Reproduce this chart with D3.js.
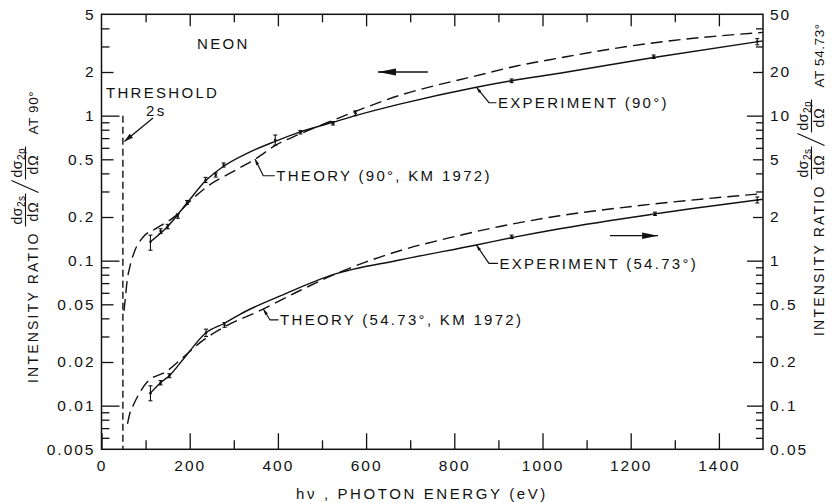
<!DOCTYPE html>
<html>
<head>
<meta charset="utf-8">
<script src="https://cdn.jsdelivr.net/npm/d3@7"></script>
<style>
  html, body { margin: 0; padding: 0; background: #fff; }
  svg { display: block; }
  text { font-family: "Liberation Sans", Arial, sans-serif; fill: #111; }
  .tick text { font-size: 15.5px; letter-spacing: 2px; }
  .note { font-size: 15px; letter-spacing: 2.3px; }
  .ttl { font-size: 14px; letter-spacing: 2.2px; }
</style>
</head>
<body>
<svg id="chart" width="836" height="503"></svg>
<script>
// ---- Neon 2s/2p photoelectron intensity ratio vs photon energy ----

// Measured ratio at 90 deg (left axis): energy, value, error-bar limits
const expEnergy90 = [111, 134, 150, 173, 194, 236, 259, 277, 394, 451, 525, 576, 930, 1252, 1487];
const expRatio90  = [0.135, 0.160, 0.172, 0.203, 0.252, 0.360, 0.390, 0.457, 0.679, 0.768, 0.886, 1.04, 1.74, 2.55, 3.24];
const expLo90     = [0.118, 0.154, 0.166, 0.196, 0.244, 0.346, 0.377, 0.442, 0.625, 0.748, 0.862, 1.00, 1.69, 2.48, 3.08];
const expHi90     = [0.150, 0.166, 0.178, 0.210, 0.260, 0.375, 0.403, 0.472, 0.735, 0.790, 0.910, 1.08, 1.79, 2.62, 3.40];

// Smooth curve drawn through the 90 deg measurements
const fitEnergy90 = [111, 150, 194, 236, 277, 330, 394, 449, 525, 576, 676, 850, 930, 1039, 1252, 1500];
const fitRatio90  = [0.135, 0.172, 0.250, 0.355, 0.448, 0.55, 0.665, 0.770, 0.900, 1.00, 1.20, 1.57, 1.74, 1.96, 2.52, 3.28];

// Theory, 90 deg (KM 1972)
const thEnergy90 = [51, 54, 58, 64, 75, 94, 124, 170, 196, 245, 298, 351, 396, 449, 517, 576, 676, 752, 830, 941, 1039, 1145, 1296, 1500];
const thRatio90  = [0.045, 0.055, 0.072, 0.090, 0.116, 0.145, 0.167, 0.206, 0.249, 0.333, 0.411, 0.508, 0.628, 0.745, 0.908, 1.07, 1.38, 1.60, 1.82, 2.20, 2.50, 2.85, 3.30, 3.75];

// Measured ratio at 54.73 deg (right axis)
const expEnergy54 = [111, 134, 154, 237, 279, 930, 1255, 1487];
const expRatio54  = [0.122, 0.144, 0.161, 0.318, 0.360, 1.46, 2.10, 2.62];
const expLo54     = [0.108, 0.139, 0.156, 0.300, 0.347, 1.42, 2.05, 2.50];
const expHi54     = [0.137, 0.149, 0.166, 0.337, 0.374, 1.50, 2.16, 2.75];

// Smooth curve drawn through the 54.73 deg measurements
const fitEnergy54 = [111, 134, 154, 192, 237, 279, 313, 419, 525, 676, 850, 930, 1039, 1255, 1500];
const fitRatio54  = [0.122, 0.144, 0.161, 0.222, 0.318, 0.37, 0.425, 0.595, 0.80, 1.01, 1.283, 1.44, 1.66, 2.10, 2.65];

// Theory, 54.73 deg (KM 1972)
const thEnergy54 = [59, 64, 71, 86, 103, 147, 190, 222, 283, 358, 449, 510, 600, 676, 790, 903, 1039, 1221, 1500];
const thRatio54  = [0.075, 0.088, 0.099, 0.122, 0.145, 0.172, 0.222, 0.270, 0.355, 0.45, 0.62, 0.76, 0.98, 1.17, 1.44, 1.72, 2.04, 2.40, 2.90];

// 2s ionisation threshold (eV)
const thresholdEnergy = 48.5;

// Tick labels
const xTickLabels = ["0", "200", "400", "600", "800", "1000", "1200", "1400"];
const leftTickLabels = ["0.005", "0.01", "0.02", "0.05", "0.1", "0.2", "0.5", "1", "2", "5"];
const rightTickLabels = ["0.05", "0.1", "0.2", "0.5", "1", "2", "5", "10", "20", "50"];

// ---------------------------------------------------------------
const svg = d3.select("#chart");
const X0 = 101.5, X1 = 763, Y0 = 14.3, Y1 = 449.3;
const INK = "#111";

const x  = d3.scaleLinear().domain([0, 1500]).range([X0, X1]);
const yL = d3.scaleLog().domain([0.005, 5]).range([Y1, Y0]);
const yR = d3.scaleLog().domain([0.05, 50]).range([Y1, Y0]);

function styleAxis(g) {
  g.attr("font-family", null).attr("font-size", null);
  g.select(".domain").remove();
  g.selectAll(".tick line").attr("stroke", INK).attr("stroke-width", 1.3);
}

// minor log ticks (3,4,6,7,8,9 of each decade) inside a domain
function minorLog(lo, hi) {
  const out = [];
  for (let p = -4; p <= 3; p++) {
    for (const m of [3, 4, 6, 7, 8, 9]) {
      const v = m * Math.pow(10, p);
      if (v > lo * 1.0001 && v < hi * 0.9999) out.push(v);
    }
  }
  return out;
}

// ---- bottom axis ----
const xMajor = xTickLabels.map(Number);
const xMinor = [100, 300, 500, 700, 900, 1100, 1300];
svg.append("g").attr("transform", `translate(0,${Y1})`)
  .call(d3.axisBottom(x).tickValues(xMajor).tickSize(-16).tickPadding(11)
    .tickFormat((d, i) => xTickLabels[i]))
  .call(styleAxis);
svg.append("g").attr("transform", `translate(0,${Y1})`)
  .call(d3.axisBottom(x).tickValues(xMinor).tickSize(-9).tickFormat(""))
  .call(styleAxis);
// ---- top axis ----
svg.append("g").attr("transform", `translate(0,${Y0})`)
  .call(d3.axisTop(x).tickValues(xMajor.slice(1)).tickSize(-12).tickFormat(""))
  .call(styleAxis);
svg.append("g").attr("transform", `translate(0,${Y0})`)
  .call(d3.axisTop(x).tickValues(xMinor).tickSize(-8).tickFormat(""))
  .call(styleAxis);

// ---- left axis ----
const leftVals = leftTickLabels.map(Number);
svg.append("g").attr("transform", `translate(${X0},0)`)
  .call(d3.axisLeft(yL).tickValues(leftVals).tickSize(0).tickPadding(6)
    .tickFormat((d, i) => leftTickLabels[i]))
  .call(styleAxis);
svg.append("g").attr("transform", `translate(${X0},0)`)
  .call(d3.axisLeft(yL).tickValues([0.01, 0.1, 1]).tickSize(-18).tickFormat(""))
  .call(styleAxis);
svg.append("g").attr("transform", `translate(${X0},0)`)
  .call(d3.axisLeft(yL).tickValues([0.02, 0.05, 0.2, 0.5, 2]).tickSize(-12).tickFormat(""))
  .call(styleAxis);
svg.append("g").attr("transform", `translate(${X0},0)`)
  .call(d3.axisLeft(yL).tickValues(minorLog(0.005, 5)).tickSize(-8).tickFormat(""))
  .call(styleAxis);

// ---- right axis ----
const rightVals = rightTickLabels.map(Number);
svg.append("g").attr("transform", `translate(${X1},0)`)
  .call(d3.axisRight(yR).tickValues(rightVals).tickSize(0).tickPadding(7)
    .tickFormat((d, i) => rightTickLabels[i]))
  .call(styleAxis);
svg.append("g").attr("transform", `translate(${X1},0)`)
  .call(d3.axisRight(yR).tickValues([0.1, 1, 10]).tickSize(-16).tickFormat(""))
  .call(styleAxis);
svg.append("g").attr("transform", `translate(${X1},0)`)
  .call(d3.axisRight(yR).tickValues([0.2, 0.5, 2, 5, 20]).tickSize(-10).tickFormat(""))
  .call(styleAxis);
svg.append("g").attr("transform", `translate(${X1},0)`)
  .call(d3.axisRight(yR).tickValues(minorLog(0.05, 50)).tickSize(-7).tickFormat(""))
  .call(styleAxis);

// ---- plot frame ----
svg.append("rect").attr("x", X0).attr("y", Y0).attr("width", X1 - X0).attr("height", Y1 - Y0)
  .attr("fill", "none").attr("stroke", INK).attr("stroke-width", 1.5);

// ---- curves ----
const zip = (a, b) => a.map((v, i) => [v, b[i]]);
function curve(es, vs, ys, dash) {
  const line = d3.line().x(d => x(d[0])).y(d => ys(d[1])).curve(d3.curveMonotoneX);
  svg.append("path").datum(zip(es, vs)).attr("d", line)
    .attr("fill", "none").attr("stroke", INK).attr("stroke-width", 1.4)
    .attr("stroke-dasharray", dash || null);
}
curve(fitEnergy90, fitRatio90, yL);
curve(thEnergy90, thRatio90, yL, "12,6");
curve(fitEnergy54, fitRatio54, yR);
curve(thEnergy54, thRatio54, yR, "12,6");

// ---- error bars ----
function errorBars(es, vs, lo, hi, ys) {
  const g = svg.append("g").attr("stroke", INK).attr("stroke-width", 1.1);
  es.forEach((e, i) => {
    const cx = x(e), a = ys(lo[i]), b = ys(hi[i]);
    g.append("line").attr("x1", cx).attr("x2", cx).attr("y1", a).attr("y2", b);
    g.append("line").attr("x1", cx - 2).attr("x2", cx + 2).attr("y1", a).attr("y2", a);
    g.append("line").attr("x1", cx - 2).attr("x2", cx + 2).attr("y1", b).attr("y2", b);
    svg.append("circle").attr("cx", cx).attr("cy", ys(vs[i])).attr("r", 1.3).attr("fill", INK);
  });
}
errorBars(expEnergy90, expRatio90, expLo90, expHi90, yL);
errorBars(expEnergy54, expRatio54, expLo54, expHi54, yR);

// ---- threshold marker ----
svg.append("line")
  .attr("x1", x(thresholdEnergy)).attr("x2", x(thresholdEnergy))
  .attr("y1", yL(1)).attr("y2", Y1)
  .attr("stroke", INK).attr("stroke-width", 1.4).attr("stroke-dasharray", "7,4");

// ---- arrows ----
function arrow(x1, y1, x2, y2, len, hw) {
  svg.append("line").attr("x1", x1).attr("y1", y1).attr("x2", x2).attr("y2", y2)
    .attr("stroke", INK).attr("stroke-width", 1.3);
  const ang = Math.atan2(y2 - y1, x2 - x1);
  const bx = x2 - len * Math.cos(ang), by = y2 - len * Math.sin(ang);
  const px = -Math.sin(ang) * hw, py = Math.cos(ang) * hw;
  svg.append("path")
    .attr("d", `M${x2},${y2}L${bx + px},${by + py}L${bx - px},${by - py}Z`)
    .attr("fill", INK);
}
// which axis each pair of curves uses
arrow(x(740), yL(2.0), x(627), yL(2.0), 18, 3.4);
arrow(x(1153), yR(1.486), x(1262), yR(1.486), 16, 3.2);
// threshold pointer
arrow(153, 118, x(thresholdEnergy) + 1.5, 141.5, 9, 2.6);

// ---- text notes ----
function note(tx, ty, str) {
  svg.append("text").attr("class", "note").attr("x", tx).attr("y", ty).text(str);
}
note(197, 48.5, "NEON");
note(106, 97.5, "THRESHOLD");
note(146, 115.5, "2s");

// value of a curve at energy e (log interpolation)
function valueAt(es, vs, e) {
  const i = Math.max(1, d3.bisectLeft(es, e));
  const t = (e - es[i - 1]) / (es[i] - es[i - 1]);
  return Math.exp(Math.log(vs[i - 1]) + t * (Math.log(vs[i]) - Math.log(vs[i - 1])));
}
function leader(es, vs, ys, e, dx, dy, hlen, label) {
  const ax = x(e), ay = ys(valueAt(es, vs, e));
  const cx = ax + dx, cy = ay + dy;
  svg.append("path").attr("d", `M${ax},${ay}L${cx},${cy}L${cx + hlen},${cy}`)
    .attr("fill", "none").attr("stroke", INK).attr("stroke-width", 1.2);
  // small barb at the curve end
  const ang = Math.atan2(-dy, -dx);
  const bx = ax - 6 * Math.cos(ang), by = ay - 6 * Math.sin(ang);
  const px = -Math.sin(ang) * 1.6, py = Math.cos(ang) * 1.6;
  svg.append("path").attr("d", `M${ax},${ay}L${bx + px},${by + py}L${bx - px},${by - py}Z`).attr("fill", INK);
  svg.append("text").attr("class", "note").attr("x", cx + hlen + 1.5).attr("y", cy).attr("dy", "0.36em").text(label);
}
leader(fitEnergy90, fitRatio90, yL, 850, 12.6, 15.5, 7.5, "EXPERIMENT (90°)");
leader(thEnergy90, thRatio90, yL, 348, 8.3, 16.7, 11.5, "THEORY (90°, KM 1972)");
leader(fitEnergy54, fitRatio54, yR, 850, 12.6, 18.5, 9, "EXPERIMENT (54.73°)");
leader(thEnergy54, thRatio54, yR, 367, 6.7, 11, 8.5, "THEORY (54.73°, KM 1972)");

// ---- x-axis title ----
svg.append("text").attr("class", "ttl").attr("x", 422).attr("y", 498.5)
  .attr("text-anchor", "middle").style("font-size", "15px").style("letter-spacing", "2.6px")
  .text("hν , PHOTON ENERGY (eV)");

// ---- y-axis titles (rotated, reading upward), laid out piece by piece ----
function yTitle(xBase, yStart, angleLabel) {
  const g = svg.append("g").attr("transform", `translate(${xBase},${yStart}) rotate(-90)`);
  let pos = 0;
  const main = g.append("text").attr("class", "ttl").attr("x", 0).attr("y", 0).text("INTENSITY RATIO");
  pos += main.node().getComputedTextLength() + 6;

  function frac(x0, sub) {
    const n = g.append("text").attr("class", "ttl").attr("x", x0 + 1).attr("y", -15.5)
      .style("letter-spacing", "0.5px");
    n.append("tspan").text("dσ");
    n.append("tspan").attr("dy", 3).style("font-size", "10px").text(sub);
    g.append("line").attr("x1", x0 - 1).attr("x2", x0 + 32).attr("y1", -12).attr("y2", -12)
      .attr("stroke", INK).attr("stroke-width", 1.1);
    g.append("text").attr("class", "ttl").attr("x", x0 + 4).attr("y", 0)
      .style("letter-spacing", "1px").text("dΩ");
    return 33;
  }
  pos += frac(pos, "2s");
  g.append("line").attr("x1", pos).attr("y1", 1).attr("x2", pos + 12).attr("y2", -26)
    .attr("stroke", INK).attr("stroke-width", 1.1);
  pos += 14;
  pos += frac(pos, "2p") + 11;
  g.append("text").attr("class", "ttl").attr("x", pos).attr("y", 0)
    .style("font-size", "13.5px").style("letter-spacing", "0.6px").text(angleLabel);
}
yTitle(37.5, 383, "AT 90°");
yTitle(823.5, 336, "AT 54.73°");
</script>
</body>
</html>
